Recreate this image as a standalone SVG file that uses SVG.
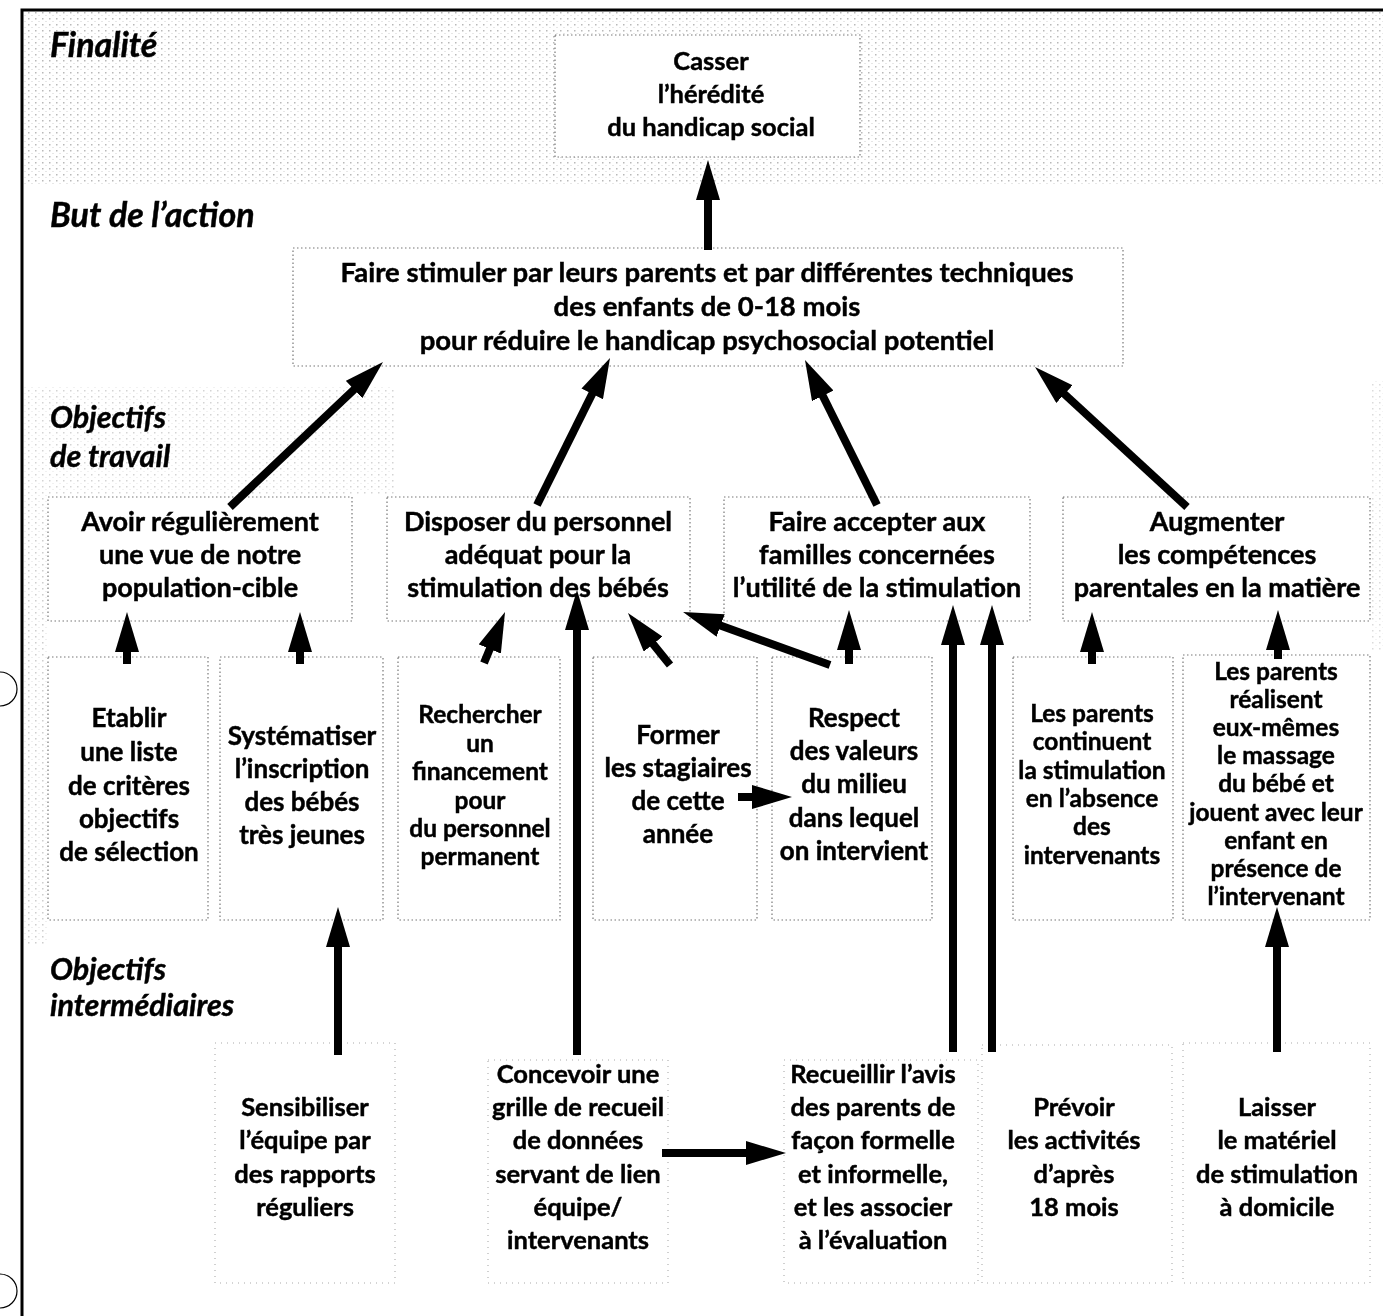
<svg xmlns="http://www.w3.org/2000/svg" width="1383" height="1316" viewBox="0 0 1383 1316">
<style>
text{font-family:Lato,"Liberation Sans",sans-serif;font-weight:700;fill:#000;stroke:#000;stroke-width:0.45}
.t{font-size:25.5px;text-anchor:middle}
.r{font-size:26px;text-anchor:middle}
.m{font-size:27px;text-anchor:middle}
.b{font-size:27.5px;text-anchor:middle}
.s{font-size:24.5px;text-anchor:middle}
.lab{font-size:30.5px;font-style:italic}
.big{font-size:34px}
.box{fill:#fff;stroke:#777;stroke-width:1.2;stroke-dasharray:1.5 2.5}
.faint{fill:#fff;stroke:#aaa;stroke-width:1.1;stroke-dasharray:1 5}
.arr{stroke:#000;stroke-width:8;fill:none;marker-end:url(#ah)}
.frame{stroke:#000;stroke-width:3;fill:none}
</style>
<defs>
<pattern id="dots" width="7" height="6" patternUnits="userSpaceOnUse">
<rect x="0" y="0" width="1.5" height="1.5" fill="#8a8a8a"/>
<rect x="3.5" y="3" width="1" height="1" fill="#b0b0b0"/>
</pattern>
<marker id="ah" viewBox="0 0 40 24" markerWidth="40" markerHeight="24" markerUnits="userSpaceOnUse" refX="4" refY="12" orient="auto">
<path d="M0,0 L40,12 L0,24 Z" fill="#000"/>
</marker>
</defs>
<rect width="1383" height="1316" fill="#fff"/>
<g id="stipple" opacity="0.6">
<rect x="24" y="12" width="1359" height="172" fill="url(#dots)"/>
<rect x="24" y="386" width="370" height="108" fill="url(#dots)" opacity="0.6"/>
<rect x="24" y="494" width="24" height="450" fill="url(#dots)" opacity="0.7"/>
<rect x="1370" y="380" width="13" height="270" fill="url(#dots)" opacity="0.5"/>
</g>
<g id="frame">
<path class="frame" d="M22,1316 L22,10 L1383,10"/>
<path d="M0,672 A17,17 0 0 1 0,706" stroke="#000" stroke-width="1.2" fill="none"/>
<path d="M0,1274 A17,17 0 0 1 0,1308" stroke="#000" stroke-width="1.2" fill="none"/>
</g>
<g id="labels">
<text class="lab big" x="50" y="57">Finalité</text>
<text class="lab big" x="50" y="227">But de l’action</text>
<text class="lab" x="50" y="428">Objectifs</text>
<text class="lab" x="50" y="467">de travail</text>
<text class="lab" x="50" y="980">Objectifs</text>
<text class="lab" x="50" y="1016">intermédiaires</text>
</g>
<g id="n-casser">
<rect class="box" x="555" y="35" width="305" height="122"/>
<text class="t" x="711" y="70">Casser</text>
<text class="t" x="711" y="103">l’hérédité</text>
<text class="t" x="711" y="136">du handicap social</text>
</g>
<g id="n-but">
<rect class="box" x="293" y="248" width="830" height="118"/>
<text class="b" x="707" y="282">Faire stimuler par leurs parents et par différentes techniques</text>
<text class="b" x="707" y="316">des enfants de 0-18 mois</text>
<text class="b" x="707" y="350">pour réduire le handicap psychosocial potentiel</text>
</g>
<g id="n-avoir">
<rect class="box" x="48" y="497" width="304" height="124"/>
<text class="m" x="200" y="531">Avoir régulièrement</text>
<text class="m" x="200" y="564">une vue de notre</text>
<text class="m" x="200" y="597">population-cible</text>
</g>
<g id="n-disposer">
<rect class="box" x="387" y="497" width="303" height="124"/>
<text class="m" x="538" y="531">Disposer du personnel</text>
<text class="m" x="538" y="564">adéquat pour la</text>
<text class="m" x="538" y="597">stimulation des bébés</text>
</g>
<g id="n-accepter">
<rect class="box" x="724" y="497" width="306" height="124"/>
<text class="m" x="877" y="531">Faire accepter aux</text>
<text class="m" x="877" y="564">familles concernées</text>
<text class="m" x="877" y="597">l’utilité de la stimulation</text>
</g>
<g id="n-augmenter">
<rect class="box" x="1063" y="497" width="307" height="124"/>
<text class="m" x="1217" y="531">Augmenter</text>
<text class="m" x="1217" y="564">les compétences</text>
<text class="m" x="1217" y="597">parentales en la matière</text>
</g>
<g id="n-etablir">
<rect class="box" x="48" y="657" width="160" height="263"/>
<text class="r" x="129" y="727">Etablir</text>
<text class="r" x="129" y="761">une liste</text>
<text class="r" x="129" y="795">de critères</text>
<text class="r" x="129" y="828">objectifs</text>
<text class="r" x="129" y="861">de sélection</text>
</g>
<g id="n-systematiser">
<rect class="box" x="220" y="657" width="163" height="263"/>
<text class="r" x="302" y="745">Systématiser</text>
<text class="r" x="302" y="778">l’inscription</text>
<text class="r" x="302" y="811">des bébés</text>
<text class="r" x="302" y="844">très jeunes</text>
</g>
<g id="n-rechercher">
<rect class="box" x="398" y="657" width="162" height="263"/>
<text class="s" x="480" y="723">Rechercher</text>
<text class="s" x="480" y="752">un</text>
<text class="s" x="480" y="780">financement</text>
<text class="s" x="480" y="809">pour</text>
<text class="s" x="480" y="837">du personnel</text>
<text class="s" x="480" y="865">permanent</text>
</g>
<g id="n-former">
<rect class="box" x="593" y="657" width="164" height="263"/>
<text class="r" x="678" y="744">Former</text>
<text class="r" x="678" y="777">les stagiaires</text>
<text class="r" x="678" y="810">de cette</text>
<text class="r" x="678" y="843">année</text>
</g>
<g id="n-respect">
<rect class="box" x="772" y="657" width="160" height="263"/>
<text class="r" x="854" y="727">Respect</text>
<text class="r" x="854" y="760">des valeurs</text>
<text class="r" x="854" y="793">du milieu</text>
<text class="r" x="854" y="827">dans lequel</text>
<text class="r" x="854" y="860">on intervient</text>
</g>
<g id="n-continuent">
<rect class="box" x="1013" y="657" width="160" height="263"/>
<text class="s" x="1092" y="722">Les parents</text>
<text class="s" x="1092" y="750">continuent</text>
<text class="s" x="1092" y="779">la stimulation</text>
<text class="s" x="1092" y="807">en l’absence</text>
<text class="s" x="1092" y="835">des</text>
<text class="s" x="1092" y="864">intervenants</text>
</g>
<g id="n-realisent">
<rect class="box" x="1183" y="655" width="187" height="265"/>
<text class="s" x="1276" y="680">Les parents</text>
<text class="s" x="1276" y="708">réalisent</text>
<text class="s" x="1276" y="736">eux-mêmes</text>
<text class="s" x="1276" y="764">le massage</text>
<text class="s" x="1276" y="792">du bébé et</text>
<text class="s" x="1276" y="821">jouent avec leur</text>
<text class="s" x="1276" y="849">enfant en</text>
<text class="s" x="1276" y="877">présence de</text>
<text class="s" x="1276" y="905">l’intervenant</text>
</g>
<g id="n-sensibiliser">
<rect class="faint" x="215" y="1043" width="180" height="240"/>
<text class="t" x="305" y="1116">Sensibiliser</text>
<text class="t" x="305" y="1149">l’équipe par</text>
<text class="t" x="305" y="1183">des rapports</text>
<text class="t" x="305" y="1216">réguliers</text>
</g>
<g id="n-concevoir">
<rect class="faint" x="488" y="1060" width="180" height="223"/>
<text class="t" x="578" y="1083">Concevoir une</text>
<text class="t" x="578" y="1116">grille de recueil</text>
<text class="t" x="578" y="1149">de données</text>
<text class="t" x="578" y="1183">servant de lien</text>
<text class="t" x="578" y="1216">équipe/</text>
<text class="t" x="578" y="1249">intervenants</text>
</g>
<g id="n-recueillir">
<rect class="faint" x="784" y="1060" width="194" height="223"/>
<text class="t" x="873" y="1083">Recueillir l’avis</text>
<text class="t" x="873" y="1116">des parents de</text>
<text class="t" x="873" y="1149">façon formelle</text>
<text class="t" x="873" y="1183">et informelle,</text>
<text class="t" x="873" y="1216">et les associer</text>
<text class="t" x="873" y="1249">à l’évaluation</text>
</g>
<g id="n-prevoir">
<rect class="faint" x="982" y="1045" width="190" height="238"/>
<text class="t" x="1074" y="1116">Prévoir</text>
<text class="t" x="1074" y="1149">les activités</text>
<text class="t" x="1074" y="1183">d’après</text>
<text class="t" x="1074" y="1216">18 mois</text>
</g>
<g id="n-laisser">
<rect class="faint" x="1183" y="1043" width="187" height="240"/>
<text class="t" x="1277" y="1116">Laisser</text>
<text class="t" x="1277" y="1149">le matériel</text>
<text class="t" x="1277" y="1183">de stimulation</text>
<text class="t" x="1277" y="1216">à domicile</text>
</g>
<g id="connectors">
<line class="arr" x1="708" y1="250" x2="708" y2="196"/>
<line class="arr" x1="230" y1="507" x2="356.9" y2="386.8"/>
<line class="arr" x1="537" y1="505" x2="594" y2="390.3"/>
<line class="arr" x1="877" y1="505" x2="821" y2="392.3"/>
<line class="arr" x1="1187" y1="507" x2="1061.5" y2="391.4"/>
<line class="arr" x1="127" y1="664" x2="127" y2="648"/>
<line class="arr" x1="300" y1="664" x2="300" y2="648"/>
<line class="arr" x1="484" y1="663" x2="491.3" y2="645.3"/>
<line class="arr" x1="577" y1="1055" x2="577" y2="626"/>
<line class="arr" x1="670" y1="665" x2="650.6" y2="641"/>
<line class="arr" x1="830" y1="665" x2="716.9" y2="624.2"/>
<line class="arr" x1="849" y1="664" x2="849" y2="646"/>
<line class="arr" x1="738" y1="797" x2="756" y2="797"/>
<line class="arr" x1="662" y1="1153" x2="750" y2="1153"/>
<line class="arr" x1="953" y1="1052" x2="953" y2="641"/>
<line class="arr" x1="992" y1="1052" x2="992" y2="641"/>
<line class="arr" x1="1092" y1="664" x2="1092" y2="648"/>
<line class="arr" x1="1278" y1="659" x2="1278" y2="646"/>
<line class="arr" x1="338" y1="1055" x2="338" y2="943"/>
<line class="arr" x1="1277" y1="1052" x2="1277" y2="943"/>
</g>
</svg>
